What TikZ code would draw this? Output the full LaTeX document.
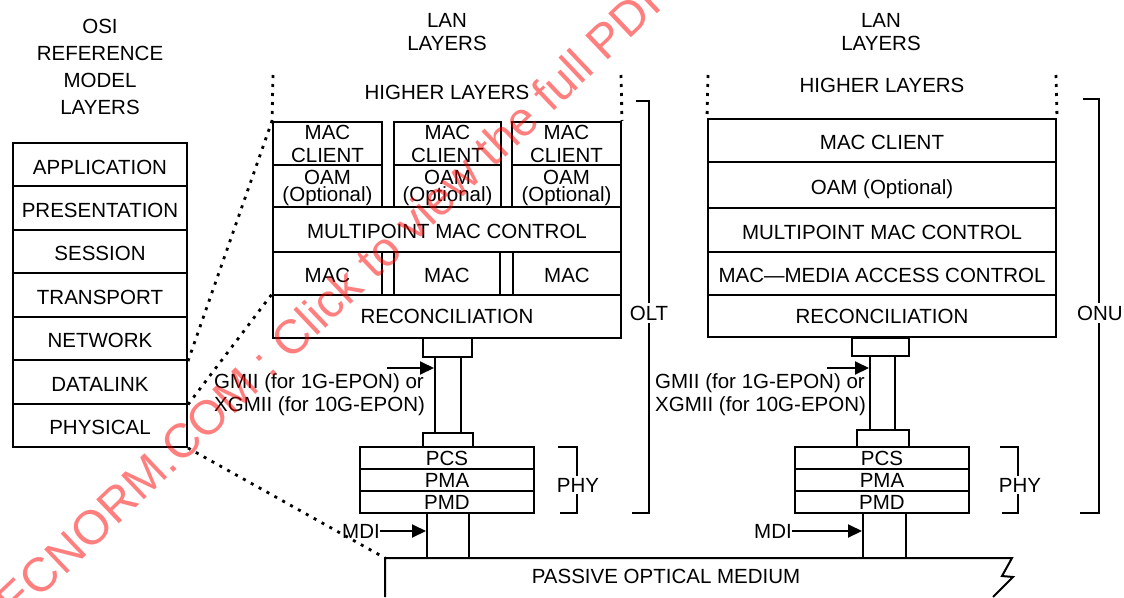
\documentclass[tikz,border=0pt]{standalone}
\usepackage{fontspec}
\setmainfont{Liberation Sans}
\usetikzlibrary{arrows.meta}
\begin{document}
\begin{tikzpicture}[x=1pt,y=-1pt,
  lbl/.style={font=\fontsize{20.5}{23}\selectfont, inner sep=0pt, align=center},
  box/.style={draw, line width=2pt, inner sep=0pt, font=\fontsize{20.5}{23}\selectfont, align=center},
  low/.style={text height=18.7pt, text depth=0pt},
  ln/.style={line width=2pt},
  dots/.style={line width=2.8pt, dash pattern=on 3pt off 6pt},
  arr/.style={line width=2pt, -{Triangle[length=14pt,width=13pt]}},
]
\useasboundingbox (0,0) rectangle (1124,597);

% ---------- OSI stack ----------
\node[lbl, font=\fontsize{20.5}{27}\selectfont] (osititle) at (100,66.5) {OSI\\REFERENCE\\MODEL\\LAYERS};
\node[box, low, minimum width=174pt, minimum height=43.4pt] (app)  at (100,164.7) {APPLICATION};
\node[box, low, minimum width=174pt, minimum height=43.4pt] (pres) at (100,208.1) {PRESENTATION};
\node[box, low, minimum width=174pt, minimum height=43.4pt] (sess) at (100,251.6) {SESSION};
\node[box, low, minimum width=174pt, minimum height=43.4pt] (tran) at (100,295.0) {TRANSPORT};
\node[box, low, minimum width=174pt, minimum height=43.4pt] (net)  at (100,338.4) {NETWORK};
\node[box, low, minimum width=174pt, minimum height=43.4pt] (dl)   at (100,381.9) {DATALINK};
\node[box, low, minimum width=174pt, minimum height=43.4pt] (phys) at (100,425.3) {PHYSICAL};

% ---------- OLT stack ----------
\node[lbl] (lan1) at (447,32) {LAN\\LAYERS};
\node[lbl] (hl1) at (447,92) {HIGHER LAYERS};
\node[box, minimum width=109pt, minimum height=43pt] (mc1) at (327.5,143.5) {MAC\\CLIENT};
\node[box, minimum width=107pt, minimum height=43pt] (mc2) at (447.5,143.5) {MAC\\CLIENT};
\node[box, minimum width=109pt, minimum height=43pt] (mc3) at (566.5,143.5) {MAC\\CLIENT};
\node[box, minimum width=109pt, minimum height=42pt] (oam1) at (327.5,186) {};
\node[box, minimum width=107pt, minimum height=42pt] (oam2) at (447.5,186) {};
\node[box, minimum width=109pt, minimum height=42pt] (oam3) at (566.5,186) {};
\node[lbl, font=\fontsize{20.5}{17}\selectfont] at ([yshift=-2pt]oam1.center) {OAM\\(Optional)};
\node[lbl, font=\fontsize{20.5}{17}\selectfont] at ([yshift=-2pt]oam2.center) {OAM\\(Optional)};
\node[lbl, font=\fontsize{20.5}{17}\selectfont] at ([yshift=-2pt]oam3.center) {OAM\\(Optional)};
\node[box, low, minimum width=348pt, minimum height=45pt] (mpmc1) at (447,229.5) {MULTIPOINT MAC CONTROL};
\node[box, low, minimum width=109pt, minimum height=43pt] (mac1) at (327.5,273.5) {MAC};
\node[box, low, minimum width=106pt, minimum height=43pt] (mac2) at (447,273.5) {MAC};
\node[box, low, minimum width=108pt, minimum height=43pt] (mac3) at (567,273.5) {MAC};
\node[box, minimum width=348pt, minimum height=43pt] (rec1) at (447,316.5) {RECONCILIATION};

\coordinate (d1a) at (273,75);
\coordinate (d1b) at (621,75);
\draw[dots] (d1a) -- (mc1.north west);
\draw[dots] (d1b) -- (mc3.north east);

\node[box, minimum width=49pt, minimum height=19pt] (sb1) at (447.5,347.5) {};
\node[box, minimum width=50pt, minimum height=14pt] (sb2) at (448,440) {};
\draw[ln] (435,357) -- (435,433);
\draw[ln] (461,357) -- (461,433);
\node[box, minimum width=174pt, minimum height=22pt] (pcs1) at (447,458) {PCS};
\node[box, minimum width=174pt, minimum height=22pt] (pma1) at (447,480) {PMA};
\node[box, minimum width=174pt, minimum height=22pt] (pmd1) at (447,502) {PMD};
\draw[ln] (427,513) -- (427,558);
\draw[ln] (469,513) -- (469,558);

\coordinate (g1) at (387,368);
\draw[arr] (g1) -- (434,368);
\node[lbl, align=left, anchor=west] (gmii1) at (214,395) {GMII (for 1G-EPON) or\\XGMII (for 10G-EPON)};
\node[lbl, anchor=east] (mdi1) at (380,531) {MDI};
\draw[arr] (mdi1.east) -- (426,531);

% brackets OLT
\draw[ln] (636,101) -- (649,101) -- (649,513) -- (632,513);
\node[lbl, fill=white, inner sep=3pt] (olt) at (649,313) {OLT};
\draw[ln] (558,447) -- (577,447) -- (577,513) -- (560,513);
\node[lbl, fill=white, inner sep=2pt] (phy1) at (578,485) {PHY};

% ---------- ONU stack ----------
\node[lbl] (lan2) at (881,32) {LAN\\LAYERS};
\node[lbl] (hl2) at (882,85) {HIGHER LAYERS};
\node[box, low, minimum width=348pt, minimum height=43pt] (mcc) at (882,140.5) {MAC CLIENT};
\node[box, low, minimum width=348pt, minimum height=46pt] (oamc) at (882,185) {OAM (Optional)};
\node[box, low, minimum width=348pt, minimum height=44pt] (mpmc2) at (882,230) {MULTIPOINT MAC CONTROL};
\node[box, low, minimum width=348pt, minimum height=43pt] (macc) at (882,273.5) {MAC---MEDIA ACCESS CONTROL};
\node[box, minimum width=348pt, minimum height=42pt] (rec2) at (882,316) {RECONCILIATION};

\coordinate (d2a) at (708,75);
\coordinate (d2b) at (1056,75);
\draw[dots] (d2a) -- (mcc.north west);
\draw[dots] (d2b) -- (mcc.north east);

\node[box, minimum width=57pt, minimum height=18pt] (sb3) at (880.5,347) {};
\node[box, minimum width=52pt, minimum height=17pt] (sb4) at (883,438.5) {};
\draw[ln] (870,356) -- (870,430);
\draw[ln] (895,356) -- (895,430);
\node[box, minimum width=174pt, minimum height=22pt] (pcs2) at (882,458) {PCS};
\node[box, minimum width=174pt, minimum height=22pt] (pma2) at (882,480) {PMA};
\node[box, minimum width=174pt, minimum height=22pt] (pmd2) at (882,502) {PMD};
\draw[ln] (863,513) -- (863,558);
\draw[ln] (906,513) -- (906,558);

\coordinate (g2) at (827,368);
\draw[arr] (g2) -- (869,368);
\node[lbl, align=left, anchor=west] (gmii2) at (655,395) {GMII (for 1G-EPON) or\\XGMII (for 10G-EPON)};
\node[lbl, anchor=east] (mdi2) at (792,531) {MDI};
\draw[arr] (mdi2.east) -- (862,531);

\draw[ln] (1083,99) -- (1099,99) -- (1099,513) -- (1080,513);
\node[lbl, fill=white, inner sep=3pt] (onu) at (1100,313) {ONU};
\draw[ln] (1000,447) -- (1018,447) -- (1018,513) -- (1002,513);
\node[lbl, fill=white, inner sep=2pt] (phy2) at (1020,485) {PHY};

% ---------- passive optical medium ----------
\coordinate (pomtl) at (385,558);
\draw[ln] (385,597) -- (pomtl) -- (1012,558) -- (1002,576) -- (1013,577) -- (993,597);
\node[lbl] (pom) at (666,576) {PASSIVE OPTICAL MEDIUM};

% ---------- dotted mapping lines ----------
\draw[dots] (net.south east) -- (mc1.north west);
\draw[dots] (dl.south east) -- (rec1.north west);
\draw[dots] (phys.south east) -- (pomtl);

% ---------- watermark ----------
\begin{scope}
\clip (0,0) rectangle (1124,597);
\node[font=\fontsize{48}{48}\selectfont, text=red, text opacity=0.5, rotate=43.5, anchor=base west, inner sep=0pt] (wm) at (5.9,631.3) {IECNORM.COM : Click to view the full PDF};
\end{scope}
\end{tikzpicture}
\end{document}
